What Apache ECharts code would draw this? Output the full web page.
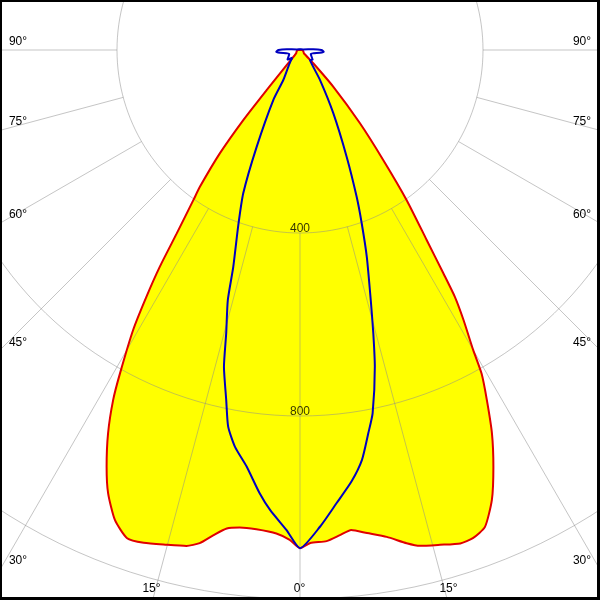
<!DOCTYPE html>
<html><head><meta charset="utf-8">
<script src="https://cdn.jsdelivr.net/npm/echarts@6/dist/echarts.min.js"></script>
<style>html,body{margin:0;padding:0;background:#fff}#c{width:600px;height:600px}</style>
</head><body><div id="c"></div>
<script>
// ---- data (gamma angle in degrees, luminous intensity in cd) ----
// red plane, drawn on the left half
const redLeftGamma = [0,1.2,2.8,5.2,7.2,8.7,10.1,11.5,12.9,15.1,17.6,19.5,21.5,23.4,24.9,26.6,28.1,29.1,30.8,31.9,32.9,33.9,35.4,36.2,37.8,39.0,39.8,41.6,45,50,60,75,90,180];
const redLeftCd    = [1089,1071,1058,1052,1052,1058,1077,1100,1112,1120,1130,1132,1104,1056,1004,937,867,809,712,635,564,483,402,370,286,197,114,44,17,11,9,7,4,0];
// red plane, drawn on the right half
const redRightGamma = [0,1.2,3.1,4.7,6.1,7.9,10.1,12.2,13.6,15.8,18.0,19.5,21.2,23.1,24.9,26.6,28.1,29.3,30.0,31.2,32.1,32.7,33.7,35.4,37.1,39.3,42.2,45,50,60,75,90,180];
const redRightCd    = [1089,1078,1075,1064,1055,1066,1081,1103,1115,1124,1134,1132,1118,1069,1004,937,867,811,757,690,637,580,499,402,302,207,108,41,11,9,7,4,0];
// blue plane, left half
const blueLeftGamma = [0,1.6,3.7,5.2,7.3,9.3,10.8,11.9,13.5,14.6,16.1,17.1,19.4,21.6,24.1,28.1,29.1,37.5,45,52,70,82,86,90,93,100,120,180];
const blueLeftCd    = [1089,1050,1008,973,918,879,838,782,712,640,569,496,406,337,232,124,75,38,24,35,25,44,52,47,29,7,3,2];
// blue plane, right half
const blueRightGamma = [0,2.4,4.6,6.8,8.6,10.1,11.3,13.3,14.5,15.8,17.9,19.6,21.1,23.6,27.8,33.7,45,52,70,82,86,90,93,100,120,180];
const blueRightCd    = [1089,1043,994,950,906,851,810,711,640,568,475,402,344,255,156,79,31,35,25,44,52,47,29,7,3,2];
// grid / tick values
const gridRadii = [400, 800, 1200];
const radiusLabels = [400, 800];
const angleTicks = [0, 15, 30, 45, 60, 75, 90];

// ---- layout (not data) ----
const CENTER = [300, 50];
const PX_PER_CD = 0.4575;
const RMAX = 1400;
const labelPos = {90:[18,42],75:[18,122],60:[18,214.5],45:[18,342.5],30:[18,561],15:[151.5,588.5],0:[299.5,589]};
const FONT = '12px "Liberation Sans", Arial, sans-serif';

function loop(rg, rv, lg, lv) {
  const pts = [];
  for (let i = rg.length - 1; i >= 0; i--) pts.push([rv[i], 360 - rg[i]]);
  for (let i = 1; i < lg.length; i++) pts.push([lv[i], lg[i]]);
  return pts;
}
const redLoop = loop(redRightGamma, redRightCd, redLeftGamma, redLeftCd);
const blueLoop = loop(blueRightGamma, blueRightCd, blueLeftGamma, blueLeftCd);

const gridColor = 'rgba(140,140,140,0.5)';
const SMOOTH = 0.2;
const series = [];
series.push({type:'line', coordinateSystem:'polar', data:redLoop, symbol:'none', smooth:SMOOTH,
  lineStyle:{width:0, opacity:0}, areaStyle:{color:'#ffff00', opacity:1}, z:1, silent:true});
gridRadii.forEach(r => {
  const d = [];
  for (let a = 0; a <= 360; a += 2) d.push([r, a]);
  series.push({type:'line', coordinateSystem:'polar', data:d, symbol:'none',
    lineStyle:{color:gridColor, width:1}, z:2, silent:true});
});
angleTicks.forEach(g => {
  const sides = g === 0 ? [0] : [g, 360 - g];
  sides.forEach(a => {
    series.push({type:'line', coordinateSystem:'polar', data:[[gridRadii[0], a],[RMAX, a]], symbol:'none',
      lineStyle:{color:gridColor, width:1}, z:2, silent:true});
  });
});
series.push({type:'line', coordinateSystem:'polar', data:redLoop, symbol:'none', smooth:SMOOTH,
  lineStyle:{color:'#e00000', width:2}, z:3, silent:true});
series.push({type:'line', coordinateSystem:'polar', data:blueLoop, symbol:'none', smooth:SMOOTH,
  lineStyle:{color:'#0000c0', width:2}, z:4, silent:true});
series.push({type:'scatter', coordinateSystem:'polar', data:radiusLabels.map(v => [v, 0]),
  symbolSize:1, itemStyle:{color:'rgba(0,0,0,0)'}, z:5, silent:true,
  label:{show:true, position:'inside', offset:[0,-4], formatter:p => String(p.value[0]),
    color:'#000', fontSize:12, fontFamily:'"Liberation Sans", Arial, sans-serif'}});

const graphics = [];
angleTicks.forEach(g => {
  const p = labelPos[g];
  const pos = g === 0 ? [p] : [p, [600 - p[0], p[1]]];
  pos.forEach(q => graphics.push({type:'text', x:q[0], y:q[1], z:10,
    style:{text: g + '°', font: FONT, fill:'#000', align:'center', verticalAlign:'middle'}}));
});
// black frame
[[0,0,600,2],[0,0,2,600],[597,0,3,600],[0,597,600,3]].forEach(r =>
  graphics.push({type:'rect', shape:{x:r[0],y:r[1],width:r[2],height:r[3]}, style:{fill:'#000'}, z:20}));

const chart = echarts.init(document.getElementById('c'));
chart.setOption({
  animation:false,
  backgroundColor:'#fff',
  polar:{center:CENTER, radius:RMAX * PX_PER_CD},
  angleAxis:{type:'value', min:0, max:360, startAngle:270, clockwise:true, show:false},
  radiusAxis:{type:'value', min:0, max:RMAX, show:false},
  series: series,
  graphic: graphics
});
</script></body></html>
